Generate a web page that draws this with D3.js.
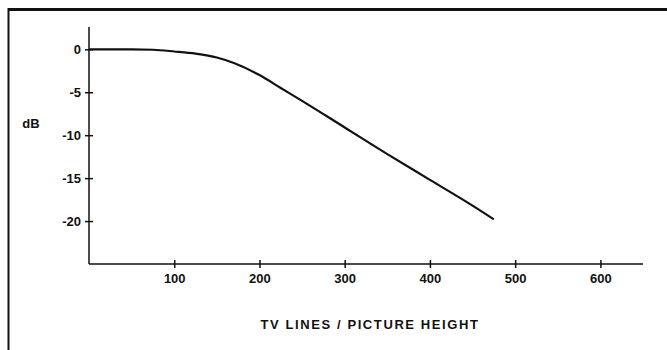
<!DOCTYPE html>
<html><head><meta charset="utf-8">
<script src="https://cdn.jsdelivr.net/npm/d3@7"></script>
<style>
html,body{margin:0;padding:0;background:#fff;}
svg text{font-family:"Liberation Sans",Arial,Helvetica,sans-serif;font-weight:bold;fill:#111;}
</style></head><body>
<svg id="c" width="667" height="350"></svg>
<script>
const xTicks = [100, 200, 300, 400, 500, 600];
const yTicks = [0, -5, -10, -15, -20];
const lineX = [0, 50, 75, 100, 125, 150, 170, 200, 225, 250, 300, 350, 400, 450, 475];
const lineY = [0, 0, -0.05, -0.25, -0.5, -0.95, -1.6, -3.0, -4.5, -6.0, -9.1, -12.2, -15.2, -18.2, -19.8];
const xLabel = "TV LINES / PICTURE HEIGHT";
const yLabel = "dB";

const svg = d3.select("#c");
const x = d3.scaleLinear().domain([0, 650]).range([89, 643]);
const y = d3.scaleLinear().domain([-25, 2.6]).range([264, 27]);
const fmt = d => String(d); // hyphen-minus like the reference

// frame
svg.append("line").attr("x1",8).attr("x2",667).attr("y1",9.5).attr("y2",9.5).attr("stroke","#111").attr("stroke-width",3);
svg.append("line").attr("x1",8.5).attr("x2",8.5).attr("y1",8).attr("y2",350).attr("stroke","#111").attr("stroke-width",2);

// x axis
const gx = svg.append("g").attr("transform",`translate(0,${y(-25)})`)
  .call(d3.axisBottom(x).tickValues(xTicks).tickSize(4).tickPadding(6).tickFormat(fmt));
gx.select(".domain").attr("d",`M${x(0)},0H${x(650)}`).attr("stroke","#111").attr("stroke-width",1.5);
gx.selectAll(".tick line").attr("y1",-4).attr("y2",4).attr("stroke","#111").attr("stroke-width",1.5);
gx.selectAll(".tick text").attr("font-size",13).attr("dy","0.71em");

// y axis
const gy = svg.append("g").attr("transform",`translate(${x(0)},0)`)
  .call(d3.axisLeft(y).tickValues(yTicks).tickSize(4).tickPadding(4).tickFormat(fmt));
gy.select(".domain").attr("d",`M0,${y(2.6)}V${y(-25)}`).attr("stroke","#111").attr("stroke-width",1.5);
gy.selectAll(".tick line").attr("x1",-4).attr("x2",4).attr("stroke","#111").attr("stroke-width",1.5);
gy.selectAll(".tick text").attr("font-size",13);

// labels
svg.append("text").attr("x",31).attr("y",128).attr("text-anchor","middle").attr("font-size",13).text(yLabel);
svg.append("text").attr("x",370).attr("y",329).attr("text-anchor","middle").attr("font-size",13).attr("letter-spacing","1.6").text(xLabel);

// curve
const pts = lineX.map((v,i)=>[v,lineY[i]]);
svg.append("path").datum(pts)
  .attr("d", d3.line().x(d=>x(d[0])).y(d=>y(d[1])).curve(d3.curveMonotoneX))
  .attr("fill","none").attr("stroke","#111").attr("stroke-width",2.2);
</script></body></html>
